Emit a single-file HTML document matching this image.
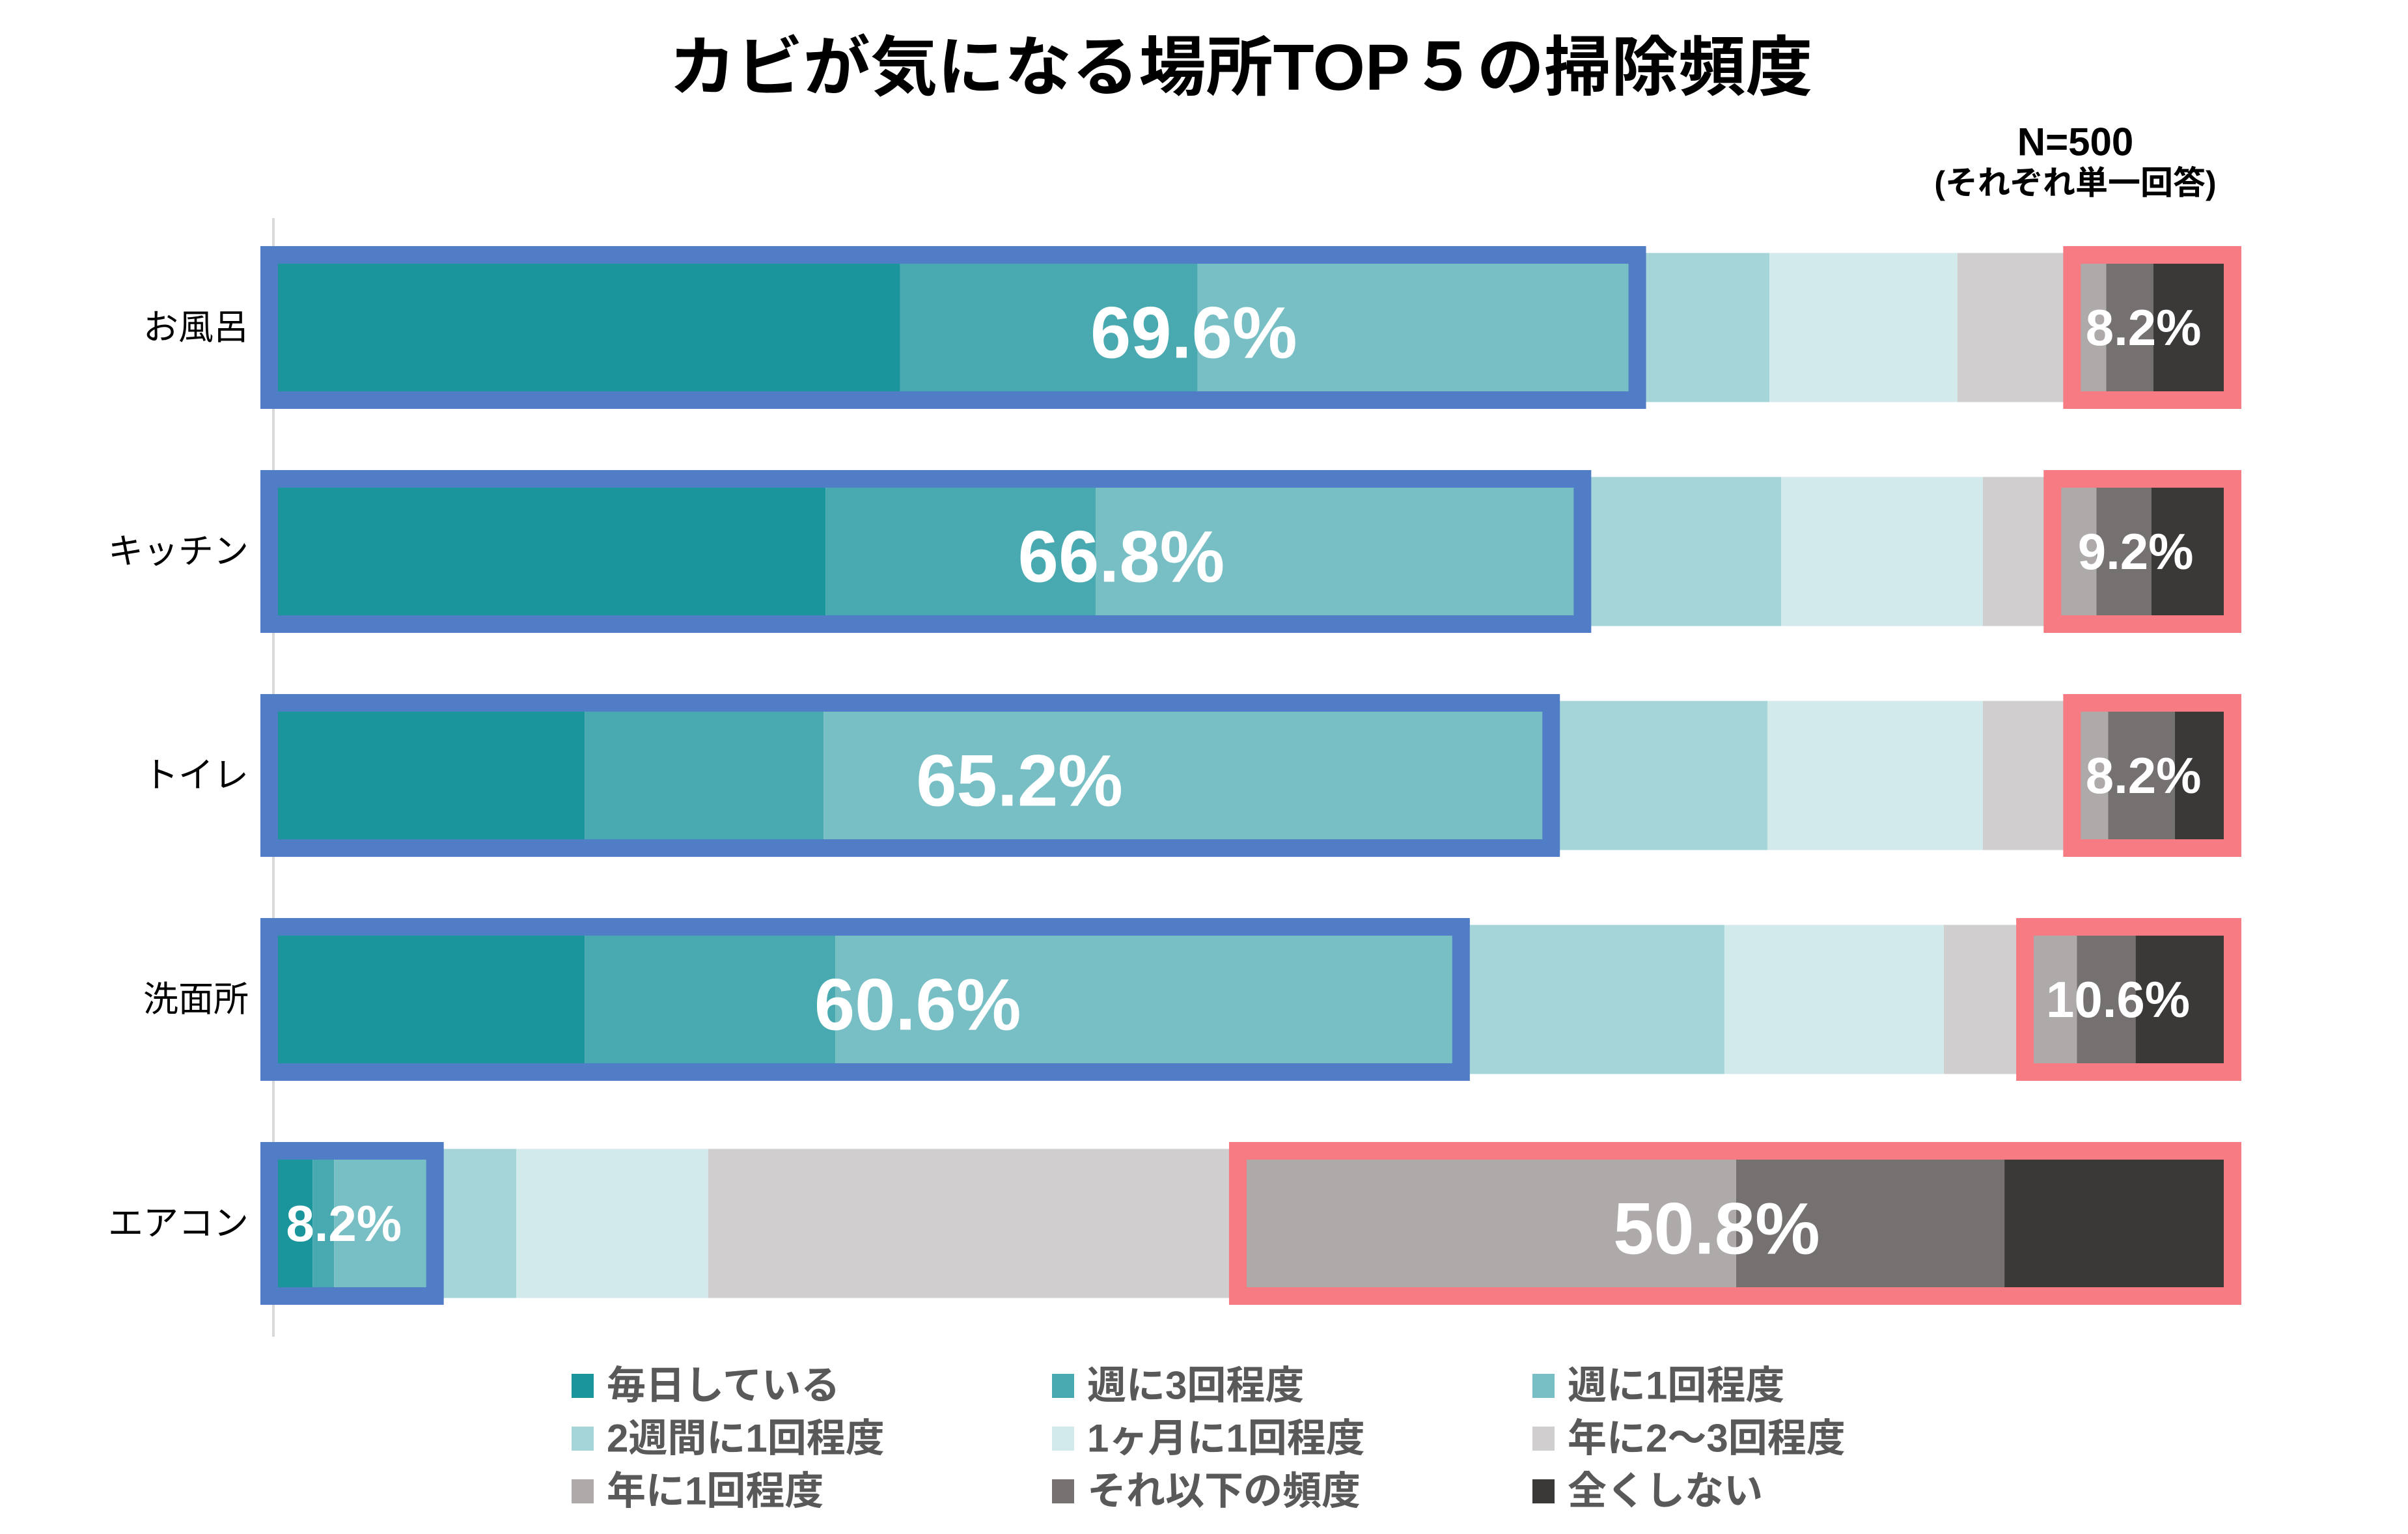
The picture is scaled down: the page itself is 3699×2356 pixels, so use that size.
<!DOCTYPE html>
<html lang="ja">
<head>
<meta charset="utf-8">
<style>
  html, body { margin: 0; padding: 0; background: #ffffff; }
  svg { display: block; }
  text { font-family: "Liberation Sans", "Noto Sans CJK JP", sans-serif; }
</style>
</head>
<body>
<svg id="chart" width="3699" height="2356" viewBox="0 0 3699 2356" xmlns="http://www.w3.org/2000/svg">
  <text x="1906" y="104" text-anchor="middle" dominant-baseline="central" font-size="100" font-weight="bold" fill="#000" textLength="1757" lengthAdjust="spacingAndGlyphs">カビが気になる場所TOP５の掃除頻度</text>
  <text x="3188" y="218" text-anchor="middle" dominant-baseline="central" font-size="60" font-weight="bold" fill="#000">N=500</text>
  <text x="3188" y="281" text-anchor="middle" dominant-baseline="central" font-size="50" font-weight="bold" fill="#000">(それぞれ単一回答)</text>
  <line x1="420" y1="335" x2="420" y2="2053" stroke="#d9d9d9" stroke-width="4"/>
  <g id="bars"></g>
  <g id="boxes"></g>
  <g id="labels"></g>
  <g id="legend"></g>
</svg>
<script>
const categories = ["お風呂", "キッチン", "トイレ", "洗面所", "エアコン"];
const seriesNames = ["毎日している", "週に3回程度", "週に1回程度", "2週間に1回程度", "1ヶ月に1回程度", "年に2〜3回程度", "年に1回程度", "それ以下の頻度", "全くしない"];
const daily     = [32.0, 28.2, 15.9, 15.9, 2.0];
const thrice    = [15.2, 13.8, 12.2, 12.8, 1.1];
const weekly    = [22.4, 24.8, 37.1, 31.9, 5.1];
const biweekly  = [6.8, 10.2, 11.1, 13.5, 4.2];
const monthly   = [9.6, 10.3, 11.0, 11.2, 9.8];
const fewYear   = [5.8, 3.5, 4.5, 4.1, 27.0];
const onceYear  = [1.8, 2.3, 1.9, 2.7, 25.5];
const lessOften = [2.4, 2.8, 3.4, 3.0, 13.7];
const never     = [4.0, 4.1, 2.9, 4.9, 11.6];
const cleanTotals = ["69.6%", "66.8%", "65.2%", "60.6%", "8.2%"];
const rareTotals  = ["8.2%", "9.2%", "8.2%", "10.6%", "50.8%"];
const cleanLabelAt = [47.0, 43.3, 38.1, 32.9, 3.6];
const rareLabelAt  = [95.5, 95.1, 95.5, 94.2, 73.7];

const series = [daily, thrice, weekly, biweekly, monthly, fewYear, onceYear, lessOften, never];
const colors = ["#1a959c", "#48aab0", "#77bfc4", "#a5d5d8", "#d2eaeb", "#d0cece", "#aeaaaa", "#767171", "#3b3838"];
const NS = "http://www.w3.org/2000/svg";
const X0 = 420, X100 = 3428;
const xScale = v => X0 + (X100 - X0) * v / 100;
const rowY = i => 503 + i * 344;
const BAR_H = 229;

function mk(tag, attrs, parent) {
  const el = document.createElementNS(NS, tag);
  for (const k in attrs) el.setAttribute(k, attrs[k]);
  parent.appendChild(el);
  return el;
}
const gBars = document.getElementById("bars");
const gBoxes = document.getElementById("boxes");
const gLabels = document.getElementById("labels");
const gLegend = document.getElementById("legend");

categories.forEach((cat, i) => {
  const cy = rowY(i);
  const lab = mk("text", {x: 382, y: cy, "text-anchor": "end", "dominant-baseline": "central", "font-size": 54, fill: "#000"}, gLabels);
  
  
  lab.textContent = cat;

  let acc = 0;
  series.forEach((s, k) => {
    const r = mk("rect", {x: xScale(acc), y: cy - BAR_H / 2, width: xScale(acc + s[i]) - xScale(acc), height: BAR_H, fill: colors[k]}, gBars);
    
    
    acc += s[i];
  });

  const cleanSum = daily[i] + thrice[i] + weekly[i];
  const rareStart = 100 - (onceYear[i] + lessOften[i] + never[i]);
  const bw = 27;
  const b1 = mk("rect", {x: xScale(0) - 20 + bw / 2, y: cy - 125 + bw / 2, width: xScale(cleanSum) - xScale(0) + 35 - bw, height: 250 - bw, fill: "none", stroke: "#517dc7", "stroke-width": bw}, gBoxes);
  
  
  const b2 = mk("rect", {x: xScale(rareStart) - 12 + bw / 2, y: cy - 125 + bw / 2, width: xScale(100) - xScale(rareStart) + 27 - bw, height: 250 - bw, fill: "none", stroke: "#f77b82", "stroke-width": bw}, gBoxes);
  
  

  const big1 = cleanSum > 30;
  const t1 = mk("text", {x: xScale(cleanLabelAt[i]), y: cy + (big1 ? 8 : 0), "text-anchor": "middle", "dominant-baseline": "central", "font-size": big1 ? 112 : 78, "font-weight": "bold", fill: "#fff"}, gLabels);
  
  
  t1.textContent = cleanTotals[i];
  const big2 = (100 - rareStart) > 30;
  const t2 = mk("text", {x: xScale(rareLabelAt[i]), y: cy + (big2 ? 8 : 0), "text-anchor": "middle", "dominant-baseline": "central", "font-size": big2 ? 112 : 78, "font-weight": "bold", fill: "#fff"}, gLabels);
  
  
  t2.textContent = rareTotals[i];
});

seriesNames.forEach((name, k) => {
  const col = k % 3, row = Math.floor(k / 3);
  const lx = 878 + col * 738, ly = 2128 + row * 81;
  const sq = mk("rect", {x: lx, y: ly - 18, width: 34, height: 37, fill: colors[k]}, gLegend);
  
  
  const t = mk("text", {x: lx + 54, y: ly, "dominant-baseline": "central", "font-size": 60, "font-weight": "bold", fill: "#595959"}, gLegend);
  
  
  t.textContent = name;
});
</script>
</body>
</html>
